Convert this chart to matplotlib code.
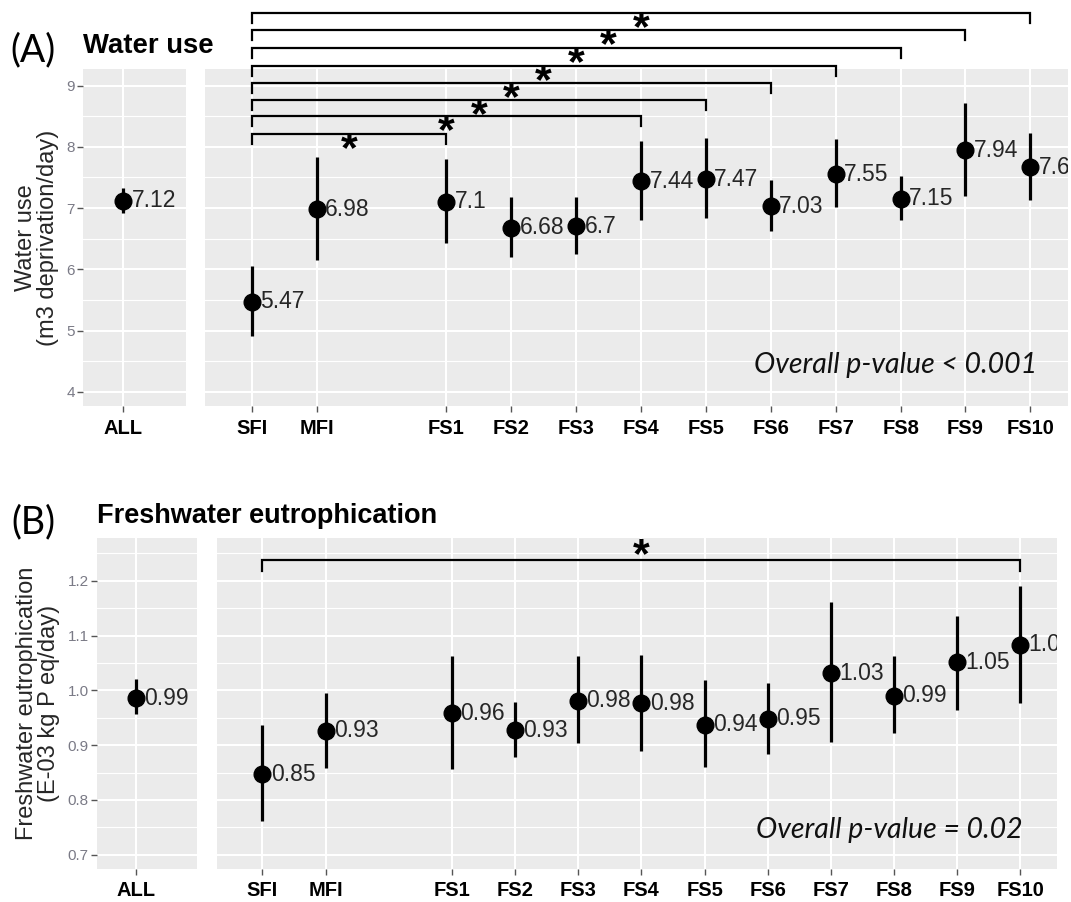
import matplotlib
matplotlib.use('Agg')
import matplotlib.pyplot as plt
from matplotlib.ticker import MultipleLocator, FixedLocator
from matplotlib.transforms import offset_copy

plt.rcParams['font.family'] = ['Liberation Sans', 'DejaVu Sans']

# ---------------- data ----------------
groups = ['SFI', 'MFI', 'FS1', 'FS2', 'FS3', 'FS4', 'FS5', 'FS6', 'FS7', 'FS8', 'FS9', 'FS10']
all_label = 'ALL'

water_all = 7.12
water_all_low = 6.92
water_all_high = 7.33
water_mean = [5.47, 6.98, 7.10, 6.68, 6.70, 7.44, 7.47, 7.03, 7.55, 7.15, 7.94, 7.67]
water_low = [4.91, 6.16, 6.43, 6.20, 6.25, 6.81, 6.84, 6.62, 7.02, 6.81, 7.20, 7.14]
water_high = [6.06, 7.83, 7.80, 7.18, 7.18, 8.09, 8.15, 7.46, 8.12, 7.52, 8.71, 8.22]
water_sig_targets = ['FS1', 'FS4', 'FS5', 'FS6', 'FS7', 'FS8', 'FS9', 'FS10']
water_sig_y = [8.21, 8.50, 8.77, 9.04, 9.32, 9.61, 9.90, 10.18]
water_yticks = [4, 5, 6, 7, 8, 9]

eutro_all = 0.986
eutro_all_low = 0.957
eutro_all_high = 1.020
eutro_mean = [0.847, 0.926, 0.958, 0.927, 0.981, 0.976, 0.937, 0.948, 1.031, 0.990, 1.051, 1.083]
eutro_low = [0.762, 0.858, 0.856, 0.878, 0.904, 0.889, 0.861, 0.884, 0.905, 0.923, 0.964, 0.977]
eutro_high = [0.936, 0.996, 1.063, 0.978, 1.063, 1.065, 1.019, 1.013, 1.162, 1.062, 1.136, 1.190]
eutro_sig_targets = ['FS10']
eutro_sig_y = [1.238]
eutro_yticks = [0.7, 0.8, 0.9, 1.0, 1.1, 1.2]

# ---------------- layout ----------------
W, H = 1071, 902
fig = plt.figure(figsize=(W / 100, H / 100), dpi=100)
fig.patch.set_facecolor('white')


def px_axes(x0, y0, x1, y1):
    return fig.add_axes([x0 / W, 1 - y1 / H, (x1 - x0) / W, (y1 - y0) / H])


def xpos(names):
    # discrete positions with a gap after MFI
    return [groups.index(n) + (1 if groups.index(n) >= 2 else 0) for n in names]


GRID_BG = '#EBEBEB'
TICK_COL = '#7a7a86'
LBL_COL = '#262626'


def style(ax, ylim, yticks, minor_step, show_ylabels, ydec):
    ax.set_facecolor(GRID_BG)
    for s in ax.spines.values():
        s.set_visible(False)
    ax.set_ylim(*ylim)
    ax.yaxis.set_major_locator(FixedLocator(yticks))
    ax.yaxis.set_minor_locator(MultipleLocator(minor_step))
    ax.grid(which='major', color='white', lw=1.5)
    ax.grid(which='minor', axis='y', color='white', lw=0.8)
    ax.set_axisbelow(True)
    ax.tick_params(which='minor', length=0)
    ax.tick_params(axis='x', length=4, width=1, color='#555555', pad=5)
    if show_ylabels:
        ax.tick_params(axis='y', length=4, width=1, color='#555555', pad=2,
                       labelsize=11, labelcolor=TICK_COL)
        ax.set_yticklabels([f'{t:.{ydec}f}' for t in yticks])
    else:
        ax.tick_params(axis='y', length=0, labelleft=False)


def draw_points(ax, xs, means, lows, highs):
    ax.vlines(xs, lows, highs, color='black', lw=2.3, zorder=3)
    ax.plot(xs, means, 'o', ms=12, color='black', zorder=4, clip_on=False)
    tr = offset_copy(ax.transData, fig=fig, x=6.0, y=0, units='points')
    for x, m in zip(xs, means):
        ax.text(x, m, f'{round(m, 2):g}', transform=tr, ha='left', va='center',
                fontsize=16.5, color=LBL_COL, clip_on=True, zorder=5)


def draw_brackets(ax, targets, ys, tip, star_dy_pt, fs=31):
    x0 = xpos(['SFI'])[0]
    tr_star = offset_copy(ax.transData, fig=fig, x=0, y=star_dy_pt - 0.58 * fs, units='points')
    for t, y in zip(targets, ys):
        x1 = xpos([t])[0]
        ax.plot([x0, x0, x1, x1], [y - tip, y, y, y - tip], color='black', lw=1.6,
                clip_on=False, zorder=6, solid_joinstyle='miter')
        ax.text((x0 + x1) / 2, y, '*', transform=tr_star, ha='center', va='baseline',
                fontsize=fs, fontweight='bold', color='black', clip_on=False, zorder=7)


def make_panel(all_box, main_box, all_m, all_lo, all_hi, means, lows, highs,
               ylim, yticks, ydec, minor, sig_t, sig_y, tip, star_dy, ptext, ptext_xy):
    ax0 = px_axes(*all_box)
    ax1 = px_axes(*main_box)
    # ALL panel
    ax0.set_xlim(-0.39, 0.61)
    ax0.set_xticks([0])
    ax0.set_xticklabels([all_label], fontsize=14.5, fontweight='bold', color='black')
    style(ax0, ylim, yticks, minor, True, ydec)
    draw_points(ax0, [0], [all_m], [all_lo], [all_hi])
    # main panel
    xs = xpos(groups)
    ax1.set_xlim(-0.72, 12.58)
    ax1.set_xticks(xs)
    ax1.set_xticklabels(groups, fontsize=14.5, fontweight='bold', color='black')
    style(ax1, ylim, yticks, minor, False, ydec)
    draw_points(ax1, xs, means, lows, highs)
    draw_brackets(ax1, sig_t, sig_y, tip, star_dy)
    ax1.text(ptext_xy[0], ptext_xy[1], ptext, ha='right', va='center', fontsize=20.5,
             style='italic', family=['Lato', 'DejaVu Sans'], color='#111111')
    return ax0, ax1


make_panel((83, 69, 186, 406), (205, 69, 1068, 406),
           water_all, water_all_low, water_all_high, water_mean, water_low, water_high,
           (3.77, 9.27), water_yticks, 0, 0.5, water_sig_targets, water_sig_y, 0.163, -1.5,
           'Overall p-value < 0.001', (12.11, 4.44))

make_panel((97, 538, 197, 869), (217, 538, 1057, 869),
           eutro_all, eutro_all_low, eutro_all_high, eutro_mean, eutro_low, eutro_high,
           (0.674, 1.278), eutro_yticks, 1, 0.05, eutro_sig_targets, eutro_sig_y, 0.021, 12.5,
           'Overall p-value = 0.02', (12.03, 0.746))

# titles and axis labels
fig.text(10 / W, 1 - 50 / H, '(A)', fontsize=27, family=['Lato', 'DejaVu Sans'],
         ha='left', va='center')
fig.text(83 / W, 1 - 46 / H, 'Water use', fontsize=19.8, fontweight='bold',
         ha='left', va='center')
fig.text(11 / W, 1 - 522 / H, '(B)', fontsize=27, family=['Lato', 'DejaVu Sans'],
         ha='left', va='center')
fig.text(97 / W, 1 - 516 / H, 'Freshwater eutrophication', fontsize=19.5, fontweight='bold',
         ha='left', va='center')

fig.text(37 / W, 1 - 238 / H, 'Water use\n(m3 deprivation/day)', rotation=90,
         fontsize=17, color='#262626', ha='center', va='center', multialignment='center',
         linespacing=1.0)
fig.text(38 / W, 1 - 703 / H, 'Freshwater eutrophication\n(E-03 kg P eq/day)', rotation=90,
         fontsize=17, color='#262626', ha='center', va='center', multialignment='center',
         linespacing=1.0)

fig.savefig('out.png', dpi=100, facecolor='white')
